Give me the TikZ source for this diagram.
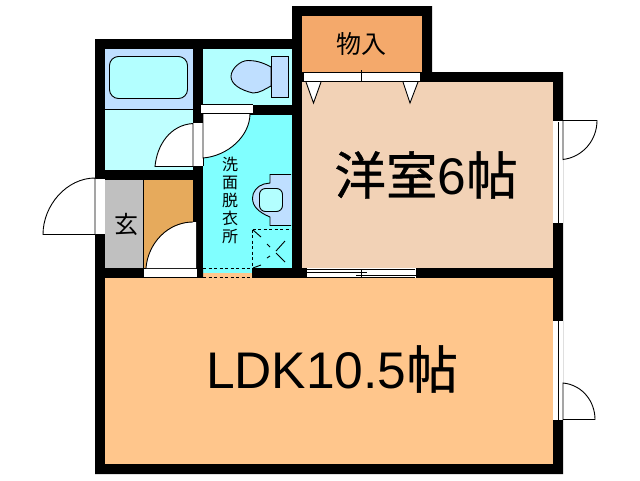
\documentclass[tikz,border=0pt]{standalone}
\usepackage{fontspec}
\setmainfont{Liberation Sans}
\newfontfamily\jpfont{Noto Sans CJK JP}
\newfontfamily\jpbig[FakeBold=0.8]{Noto Sans CJK JP}
\definecolor{closetc}{HTML}{F4A96B}
\definecolor{westc}{HTML}{F2D2B6}
\definecolor{ldkc}{HTML}{FFC68C}
\definecolor{dressc}{HTML}{80FFFF}
\definecolor{grayc}{HTML}{C0C0C0}
\definecolor{entryc}{HTML}{E6AA5C}
\definecolor{bluec}{HTML}{BFDFFF}
\definecolor{lightc}{HTML}{BFFFFF}
\definecolor{toiletc}{HTML}{B3FFFF}
\tikzset{
  room/.style={fill=#1,draw=none},
  wall/.style={fill=black,draw=none},
  opening/.style={fill=white,draw=none},
  thin line/.style={draw=black,line width=0.9pt},
  doorleaf/.style={fill=white,draw=black,line width=0.9pt},
  fixture/.style={fill=#1,draw=black,line width=0.9pt},
  dash line/.style={draw=black,line width=0.9pt,dash pattern=on 3pt off 2.5pt},
  label/.style={inner sep=0pt,text=black}
}
\begin{document}
\begin{tikzpicture}[x=1pt,y=-1pt]
\useasboundingbox (0,0) rectangle (640,480);
\fill[white] (0,0) rectangle (640,480);
% walls as one black mass
\fill[wall] (95,39) -- (292,39) -- (292,6) -- (432,6) -- (432,72) -- (563,72) -- (563,474) -- (95,474) -- cycle;
% rooms
\fill[room=closetc] (302,16) rectangle (422,72);
\fill[room=westc] (302,82) rectangle (553,268);
\fill[room=ldkc] (105,278) rectangle (553,464);
\fill[room=dressc] (203,115) rectangle (292,268);
\fill[room=toiletc] (203,49) rectangle (292,105);
\fill[room=bluec] (105,49) rectangle (193,109);
\fill[room=lightc] (105,109) rectangle (193,170);
\fill[room=grayc] (105,180) rectangle (143,268);
\fill[room=entryc] (143,180) rectangle (193,268);
\draw[thin line] (105,109) -- (193,109);
\draw[thin line] (143,180) -- (143,268);
% bath tub
\draw[fixture=toiletc,rounded corners=9pt] (109.5,56.5) rectangle (187.5,98.5);
% toilet
\draw[fixture=bluec] (271,67) .. controls (262,62) and (255,60.5) .. (248,60.5) .. controls (240,60.5) and (231,69) .. (231,76.5) .. controls (231,84) and (240,90) .. (253,93) .. controls (260,93) and (265,89) .. (271,86) -- cycle;
\draw[fixture=bluec] (271.5,56.5) rectangle (288.5,97.5);
% wash stand
\draw[fixture=bluec] (291,174.5) -- (270,174.5) -- (270,183) -- (264,184) .. controls (257,186) and (252.5,192) .. (252.5,198) .. controls (252.5,206) and (258,212) .. (270,217) -- (270,225.5) -- (291,225.5);
\draw[fixture=toiletc,rounded corners=6pt] (259.5,188.5) rectangle (282.5,211.5);
% laundry pan
\draw[dash line] (252.5,229.5) -- (291,229.5);
\draw[dash line] (252.5,229.5) -- (252.5,268);
\draw[thin line] (253,230) -- (261,237);
\draw[thin line] (267,244) -- (270,247);
\draw[thin line] (276,251) -- (285,241);
\draw[thin line] (267,258) -- (270,256);
\draw[thin line] (276,253) -- (285,262);
\draw[thin line] (253,268) -- (261,265);
% opening to LDK
\fill[room=dressc] (203,268) rectangle (252,273);
\fill[room=ldkc] (203,273) rectangle (252,278);
\draw[dash line] (203,268.5) -- (252,268.5);
\draw[dash line] (203,277.5) -- (252,277.5);
% entry door (outside)
\fill[opening] (95,178) rectangle (105,234);
\draw[thin line] (95,178) -- (105,178) (95,234) -- (105,234);
\draw[doorleaf] (95,234.5) -- (43,234.5) .. controls (43,205) and (67,178) .. (95,178) -- cycle;
% entry inner door
\fill[opening] (144,268) rectangle (197,277);
\draw[thin line] (144,268.5) -- (197,268.5);
\fill[white] (146,268) .. controls (148,243) and (168,222) .. (196,222) -- (196,268) -- cycle;
\draw[thin line] (146,268) .. controls (148,243) and (168,222) .. (193,222);
\fill[wall] (197,222) rectangle (203,268);
\fill[wall] (197,268) -- (203,268) -- (203,277) -- (197,270) -- cycle;
% bath door
\fill[opening] (193,122) rectangle (203,166);
\draw[thin line] (193,122.5) -- (203,122.5) (203,122) -- (203,166) (193,166) -- (203,166);
\draw[doorleaf] (193,166.5) -- (155,166.5) .. controls (157,145) and (170,125) .. (193,123.5) -- cycle;
% dressing door
\fill[opening] (201,105) rectangle (253,113);
\draw[thin line] (201,104.5) -- (253,104.5) (201,113.5) -- (250,113.5);
\fill[wall] (253,105) rectangle (292,115);
\draw[doorleaf] (203,113.5) -- (250,113.5) .. controls (250,136) and (228,156) .. (203,158) -- cycle;
% closet doors
\fill[opening] (304,72) rectangle (420,82);
\draw[thin line] (304,72.5) -- (420,72.5) (304,81.5) -- (420,81.5) (361.5,70) -- (361.5,82);
\draw[doorleaf] (306,82) -- (313.5,103) -- (321,82);
\draw[doorleaf] (403,82) -- (410,103) -- (418,82);
% sliding door between rooms
\fill[opening] (307,270) rectangle (416,277);
\fill[opening] (307,268) rectangle (416,268.8);
\fill[opening] (415,268) rectangle (416,278);
\fill[wall] (307,272) rectangle (367,273);
\fill[wall] (356,275) rectangle (416,276);
\draw[thin line] (361.5,270) -- (361.5,277);
% window and door right upper
\fill[opening] (553,121) rectangle (563,223);
\draw[thin line] (553,120.5) -- (563,120.5);
\fill[wall] (557.6,122) rectangle (558.9,223);
\draw[doorleaf] (563,120.5) -- (597,120.5) .. controls (597,140) and (583,157) .. (563,159.5) -- cycle;
% window and door right lower
\fill[opening] (553,321) rectangle (563,420);
\fill[wall] (558,321) rectangle (559.3,420);
\draw[doorleaf] (563,419.5) -- (595,419.5) .. controls (595,402) and (583,385) .. (563,383) -- cycle;
% labels
\node[label,font=\jpfont\fontsize{25}{25}\selectfont] (closetlabel) at (361,44) {物入};
\node[label,font=\fontsize{51.5}{52}\selectfont] (westlabel) at (426,175) {{\jpbig 洋室}6{\jpbig 帖}};
\node[label,font=\fontsize{51.5}{52}\selectfont] (ldklabel) at (332,369) {LDK10.5{\jpbig 帖}};
\node[label,font=\jpfont\fontsize{24}{24}\selectfont] (entrylabel) at (126,224) {玄};
\node[label,font=\jpfont\fontsize{16}{18}\selectfont,align=center] (dresslabel) at (230,200) {洗\\面\\脱\\衣\\所};
\end{tikzpicture}
\end{document}
